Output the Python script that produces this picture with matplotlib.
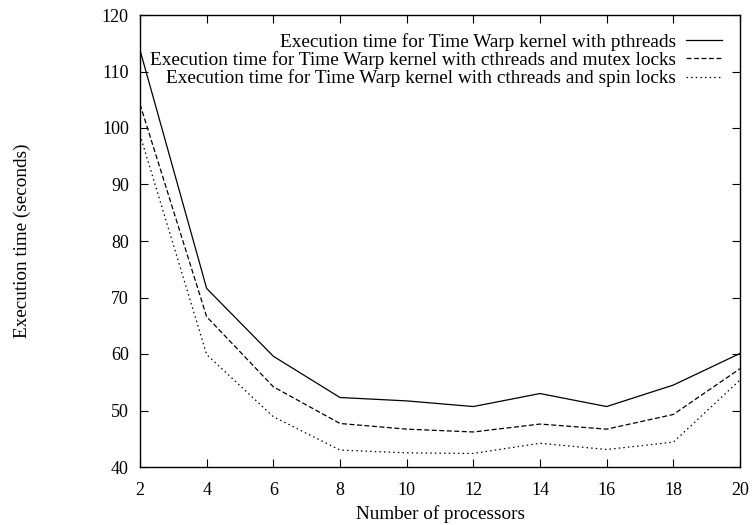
import matplotlib
matplotlib.use("Agg")
import matplotlib.pyplot as plt

plt.rcParams['font.family'] = ['Liberation Serif', 'DejaVu Serif']

procs = [2, 4, 6, 8, 10, 12, 14, 16, 18, 20]
pthreads = [113.8, 71.6, 59.6, 52.3, 51.7, 50.7, 53.0, 50.7, 54.5, 60.1]
mutex = [104.2, 66.6, 54.2, 47.7, 46.7, 46.2, 47.6, 46.7, 49.3, 57.4]
spin = [98.8, 59.9, 48.9, 43.0, 42.5, 42.4, 44.2, 43.1, 44.4, 55.4]

labels = ["Execution time for Time Warp kernel with pthreads",
          "Execution time for Time Warp kernel with cthreads and mutex locks",
          "Execution time for Time Warp kernel with cthreads and spin locks"]

fig = plt.figure(figsize=(7.54, 5.25), dpi=100)
ax = fig.add_axes([140/754, 1-467/525, 600/754, 452/525])

ax.plot(procs, pthreads, color='black', lw=0.9, ls='-', label=labels[0])
ax.plot(procs, mutex, color='black', lw=0.9, ls=(0, (4, 2)), label=labels[1])
ax.plot(procs, spin, color='black', lw=0.9, ls=(0, (1.2, 2.5)), label=labels[2])

ax.set_xlim(2, 20)
ax.set_ylim(40, 120)
ax.set_xticks(range(2, 21, 2))
ax.set_yticks(range(40, 121, 10))
ax.tick_params(direction='in', top=True, right=True, length=6, width=0.8,
               labelsize=13)
ax.tick_params(axis='x', pad=11)
ax.tick_params(axis='y', pad=8)
for s in ax.spines.values():
    s.set_linewidth(1.0)

ax.set_xlabel("Number of processors", fontsize=13.8, labelpad=4)
fig.text(22/754, 1-241/525, "Execution time (seconds)", rotation=90,
         fontsize=13.8, ha='center', va='center')

ax.legend(loc='upper right', bbox_to_anchor=(0.99, 0.986), frameon=False,
          markerfirst=False, fontsize=13.9, handlelength=1.9, handletextpad=0.5,
          labelspacing=0.02, borderaxespad=0.2)

fig.savefig("out.png", dpi=100)
